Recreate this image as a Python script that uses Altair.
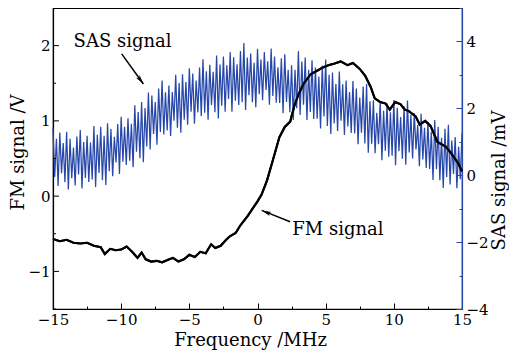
import altair as alt
import pandas as pd

# ---------------- data ----------------
# FM signal (left axis, V) versus frequency (MHz)
fm_freq = [-15.0, -14.5, -14.0, -13.5, -13.0, -12.5, -12.0, -11.5, -11.2, -10.8,
           -10.4, -10.0, -9.6, -9.2, -8.8, -8.5, -8.2, -7.8, -7.4, -7.0,
           -6.6, -6.2, -5.8, -5.4, -5.0, -4.6, -4.2, -3.8, -3.4, -3.1,
           -2.7, -2.3, -2.0, -1.6, -1.3, -1.0, -0.7, -0.3, 0.0, 0.3,
           0.7, 1.1, 1.6, 2.0, 2.4, 2.7, 3.0, 3.4, 3.9, 4.4,
           4.8, 5.2, 5.6, 6.1, 6.6, 7.0, 7.5, 7.9, 8.3, 8.6,
           9.0, 9.4, 9.7, 10.1, 10.5, 10.8, 11.1, 11.6, 11.9, 12.3,
           12.7, 13.2, 13.8, 14.2, 14.7, 15.0]
fm_volt = [-0.57, -0.60, -0.58, -0.62, -0.63, -0.62, -0.66, -0.68, -0.77, -0.70,
           -0.72, -0.71, -0.67, -0.74, -0.82, -0.75, -0.84, -0.87, -0.86, -0.88,
           -0.85, -0.82, -0.87, -0.84, -0.78, -0.81, -0.74, -0.76, -0.64, -0.69,
           -0.66, -0.58, -0.53, -0.49, -0.40, -0.33, -0.26, -0.15, -0.07, 0.02,
           0.21, 0.46, 0.78, 0.92, 0.99, 1.20, 1.35, 1.50, 1.62, 1.67,
           1.71, 1.74, 1.76, 1.79, 1.74, 1.77, 1.69, 1.60, 1.45, 1.30,
           1.25, 1.23, 1.15, 1.25, 1.22, 1.15, 1.13, 1.06, 0.95, 1.00,
           0.93, 0.72, 0.66, 0.57, 0.44, 0.33]

# SAS signal (right axis, mV): sampled every 0.25 MHz from -15 MHz,
# crest values and trough values (troughs half a step later)
sas_start = -15.0
sas_step = 0.25
sas_hi = [1.40, 1.09, 1.28, 0.96, 1.30, 1.09, 0.83, 1.16, 1.35, 0.99,
          1.18, 0.98, 1.47, 1.21, 1.45, 1.18, 1.55, 1.38, 1.15, 1.53,
          1.75, 1.45, 1.70, 1.54, 2.09, 1.89, 2.19, 2.01, 2.47, 2.38,
          2.19, 2.59, 2.83, 2.48, 2.68, 2.49, 3.00, 2.76, 3.02, 2.79,
          3.20, 3.04, 2.83, 3.22, 3.47, 3.11, 3.30, 3.09, 3.58, 3.31,
          3.55, 3.29, 3.68, 3.53, 3.32, 3.71, 3.95, 3.52, 3.64, 3.36,
          3.78, 3.46, 3.68, 3.41, 3.79, 3.55, 3.23, 3.50, 3.62, 3.15,
          3.29, 3.15, 3.71, 3.40, 3.52, 3.15, 3.44, 3.22, 2.95, 3.28,
          3.46, 3.00, 3.07, 2.73, 3.10, 2.72, 2.83, 2.49, 2.82, 2.59,
          2.32, 2.65, 2.73, 2.21, 2.24, 1.87, 2.20, 1.93, 2.15, 1.88,
          2.25, 2.02, 1.74, 2.06, 2.23, 1.81, 1.86, 1.50, 1.84, 1.42,
          1.60, 1.30, 1.65, 1.45, 1.12, 1.39, 1.51, 1.04, 1.14, 0.85,
          1.25]
sas_lo = [-0.05, -0.32, 0.06, -0.21, -0.43, -0.09, -0.31, 0.02, -0.40, -0.08,
          -0.20, -0.13, -0.35, 0.07, -0.15, -0.29, 0.12, -0.03, 0.38, 0.04,
          0.40, 0.31, 0.43, 0.24, 0.70, 0.51, 0.39, 0.86, 0.77, 1.23,
          0.91, 1.29, 1.22, 1.34, 1.17, 1.63, 1.42, 1.27, 1.66, 1.51,
          1.90, 1.54, 1.88, 1.77, 1.87, 1.66, 2.10, 1.88, 1.70, 2.08,
          1.90, 2.28, 1.90, 2.23, 2.10, 2.18, 1.95, 2.39, 2.18, 2.03,
          2.42, 2.24, 2.55, 2.11, 2.37, 2.17, 2.16, 1.85, 2.19, 1.88,
          1.65, 2.00, 1.80, 2.11, 1.65, 1.89, 1.68, 1.69, 1.40, 1.76,
          1.47, 1.23, 1.55, 1.32, 1.63, 1.20, 1.46, 1.26, 1.25, 0.93,
          1.27, 0.95, 0.67, 0.94, 0.66, 0.93, 0.45, 0.73, 0.55, 0.58,
          0.30, 0.72, 0.49, 0.31, 0.68, 0.50, 0.77, 0.27, 0.47, 0.22,
          0.19, -0.14, 0.18, -0.15, -0.38, -0.05, -0.28, 0.04, -0.39, -0.12]

# annotations (positions in MHz / V)
label_text = ["SAS signal", "FM signal"]
label_f = [-9.9, 2.55]
label_v = [2.05, -0.45]
label_align = ["center", "left"]
arrow_f0 = [-9.96, 2.39]
arrow_v0 = [1.89, -0.34]
arrow_f1 = [-8.37, 0.31]
arrow_v1 = [1.49, -0.19]
arrow_angle = [144, 292]

x_ticks = [-15 + 2.5 * k for k in range(13)]
left_major = [-1, 0, 1, 2]
left_minor = [-1.5, -0.5, 0.5, 1.5, 2.5]
right_ticks = list(range(-4, 6))

# ---------------- tables ----------------
fm_df = pd.DataFrame({"f": fm_freq, "V": fm_volt})
rows = []
for i, v in enumerate(sas_hi):
    rows.append({"f": sas_start + i * sas_step, "mV": v, "o": 2 * i})
for i, v in enumerate(sas_lo):
    rows.append({"f": sas_start + i * sas_step + sas_step / 2, "mV": v, "o": 2 * i + 1})
sas_df = pd.DataFrame(rows)
lab_df = pd.DataFrame({"t": label_text, "f": label_f, "V": label_v, "a": label_align})
arr_df = pd.DataFrame({"f0": arrow_f0, "v0": arrow_v0, "f1": arrow_f1, "v1": arrow_v1,
                       "ang": arrow_angle})
lmaj_df = pd.DataFrame({"V": left_major})
lmin_df = pd.DataFrame({"V": left_minor})

FONT = "DejaVu Serif"
BLUE = "#2748aa"

xscale = alt.Scale(domain=[-15, 15], nice=False, zero=False)
lscale = alt.Scale(domain=[-1.5, 2.5], nice=False, zero=False)
rscale = alt.Scale(domain=[-4, 5], nice=False, zero=False)

common = dict(grid=False, labelFont=FONT, labelFontSize=15, titleFont=FONT,
              titleFontSize=18, titleFontWeight="normal", labelColor="black",
              titleColor="black", labelOverlap=False, format="d", tickWidth=1,
              domainWidth=1.2)

x_axis = alt.Axis(values=x_ticks, title="Frequency /MHz", domainColor="black",
                  tickColor="black", labelFlush=False,
                  labelExpr="abs(datum.value % 5) < 0.01 ? datum.label : ''",
                  tickSize={"expr": "abs(datum.value % 5) < 0.01 ? -6 : -3"},
                  labelPadding=9, titleBaseline="alphabetic", titleY=36,
                  titleX=197, titleAlign="center", **common)
left_axis = alt.Axis(values=left_major, title="FM signal /V", orient="left",
                     domainColor="black", ticks=False, labelPadding=3,
                     titleX=-35, titleY=144, titleAngle=270,
                     titleBaseline="middle", titleAlign="center", **common)
right_axis = alt.Axis(values=right_ticks, title="SAS signal /mV", orient="right",
                      domainColor=BLUE, tickColor=BLUE,
                      labelExpr="abs(datum.value % 2) < 0.01 ? datum.label : ''",
                      tickSize={"expr": "abs(datum.value % 2) < 0.01 ? -6 : -3"},
                      labelPadding=10, titleX=37, titleY=172, titleAngle=270,
                      titleBaseline="middle", titleAlign="center", **common)


def X(fld):
    return alt.X(fld, scale=xscale, axis=x_axis)


def YA(fld):
    # extra layers: same scale as the FM signal, no axis of their own
    return alt.Y(fld, scale=lscale, axis=None)


fm = alt.Chart(fm_df).mark_line(color="black", strokeWidth=2.1).encode(
    x=X("f:Q"),
    y=alt.Y("V:Q", scale=lscale, axis=left_axis),
)

sas = alt.Chart(sas_df).mark_line(color=BLUE, strokeWidth=1.25).encode(
    x=X("f:Q"),
    y=alt.Y("mV:Q", scale=rscale, axis=right_axis),
    order="o:Q",
)

fm_top = alt.Chart(fm_df).mark_line(color="black", strokeWidth=2.1).encode(
    x=X("f:Q"), y=YA("V:Q"),
)

# inward ticks of the left axis
lmaj = alt.Chart(lmaj_df).mark_rule(color="black", strokeWidth=1).encode(
    y=YA("V:Q"), x=alt.value(0), x2=alt.value(6),
)
lmin = alt.Chart(lmin_df).mark_rule(color="black", strokeWidth=1).encode(
    y=YA("V:Q"), x=alt.value(0), x2=alt.value(3),
)

shafts = alt.Chart(arr_df).mark_rule(color="black", strokeWidth=1.5).encode(
    x=X("f0:Q"), y=YA("v0:Q"),
    x2="f1:Q", y2="v1:Q",
)
heads = alt.Chart(arr_df).mark_point(
    shape="M0,0L0.45,1.9L0,1.45L-0.45,1.9Z", filled=True, color="black",
    opacity=1, size=100,
).encode(
    x=X("f1:Q"), y=YA("v1:Q"),
    angle=alt.Angle("ang:Q", scale=None),
)
texts_c = alt.Chart(lab_df[lab_df.a == "center"]).mark_text(
    font=FONT, fontSize=18, color="black", align="center", baseline="middle"
).encode(
    x=X("f:Q"), y=YA("V:Q"), text="t:N",
)
texts_l = alt.Chart(lab_df[lab_df.a == "left"]).mark_text(
    font=FONT, fontSize=18, color="black", align="left", baseline="middle"
).encode(
    x=X("f:Q"), y=YA("V:Q"), text="t:N",
)

chart = alt.layer(fm, sas, fm_top, lmaj, lmin, shafts, heads, texts_c, texts_l).resolve_scale(
    y="independent"
).properties(
    width=409, height=301,
    autosize=alt.AutoSizeParams(type="none"),
    padding={"left": 45, "top": 0, "right": 47, "bottom": 41},
    background="white",
).configure_view(stroke="black", strokeWidth=1.2)

chart.save("out.html", embed_options={"renderer": "svg", "actions": False})
